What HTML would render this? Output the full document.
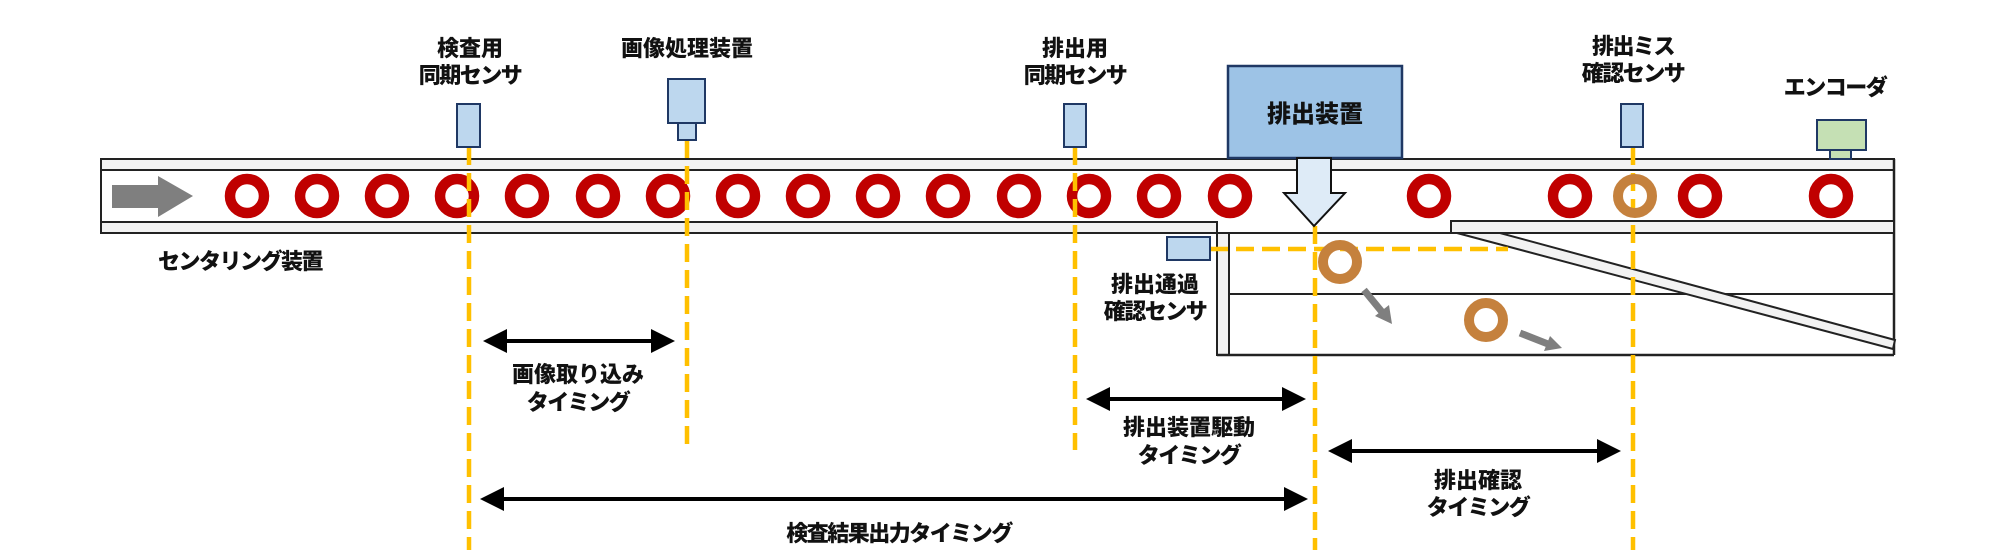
<!DOCTYPE html>
<html><head><meta charset="utf-8"><style>
html,body{margin:0;padding:0;background:#fff;}
svg{display:block;}
text{font-family:"Liberation Sans","Noto Sans CJK JP",sans-serif;font-weight:900;font-size:22px;fill:#111;text-anchor:middle;}
text.k{letter-spacing:-1.5px;}
</style></head><body>
<svg width="2000" height="560" viewBox="0 0 2000 560" xmlns="http://www.w3.org/2000/svg">
<defs>
<marker id="ah" markerWidth="6" markerHeight="6" refX="5" refY="3" orient="auto-start-reverse" markerUnits="strokeWidth">
<path d="M0,0 L6,3 L0,6 Z" fill="#000"/></marker>
</defs>
<rect x="101" y="159" width="1793" height="11" fill="#f2f2f2" stroke="#222" stroke-width="2"/>
<line x1="1894" y1="159" x2="1894" y2="355" stroke="#222" stroke-width="2.5"/>
<line x1="101" y1="159" x2="101" y2="233" stroke="#222" stroke-width="2"/>
<rect x="101" y="222" width="1116" height="11" fill="#f2f2f2" stroke="#222" stroke-width="2"/>
<rect x="1451" y="221" width="443" height="12" fill="#f2f2f2" stroke="#222" stroke-width="2"/>
<rect x="1217" y="233" width="12" height="122" fill="#f2f2f2" stroke="#222" stroke-width="2"/>
<line x1="1229" y1="233" x2="1894" y2="233" stroke="#222" stroke-width="2"/>
<line x1="1229" y1="294" x2="1894" y2="294" stroke="#222" stroke-width="2"/>
<line x1="1217" y1="355" x2="1894" y2="355" stroke="#222" stroke-width="2.5"/>
<polygon points="1457,233 1500,233 1895,340 1893,349" fill="#f2f2f2" stroke="#222" stroke-width="2"/>
<polygon points="112,185 158,185 158,176 193,196 158,217 158,208 112,208" fill="#7f7f7f"/>
<g fill="none" stroke="#c00000" stroke-width="10.5">
<circle cx="247" cy="196" r="17"/><circle cx="317" cy="196" r="17"/><circle cx="387" cy="196" r="17"/>
<circle cx="457" cy="196" r="17"/><circle cx="527" cy="196" r="17"/><circle cx="598" cy="196" r="17"/>
<circle cx="668" cy="196" r="17"/><circle cx="738" cy="196" r="17"/><circle cx="808" cy="196" r="17"/>
<circle cx="878" cy="196" r="17"/><circle cx="948" cy="196" r="17"/><circle cx="1019" cy="196" r="17"/>
<circle cx="1089" cy="196" r="17"/><circle cx="1159" cy="196" r="17"/><circle cx="1230" cy="196" r="17"/>
<circle cx="1429" cy="196" r="17"/><circle cx="1570" cy="196" r="17"/><circle cx="1700" cy="196" r="17"/>
<circle cx="1831" cy="196" r="17"/>
</g>
<g stroke="#ffc000" stroke-width="4.5" stroke-dasharray="18 8" fill="none">
<line x1="469" y1="147" x2="469" y2="550"/>
<line x1="687" y1="140" x2="687" y2="452"/>
<line x1="1075" y1="147" x2="1075" y2="450"/>
<line x1="1315" y1="226" x2="1315" y2="550"/>
<line x1="1633" y1="147" x2="1633" y2="550"/>
<line x1="1210" y1="249" x2="1508" y2="249"/>
</g>
<g fill="none" stroke="#c5813d" stroke-width="10">
<circle cx="1635" cy="196" r="17"/>
<circle cx="1340" cy="262" r="17"/>
<circle cx="1486" cy="320" r="17"/>
</g>
<g stroke="#7f7f7f" stroke-width="7" fill="#7f7f7f">
<line x1="1364" y1="290" x2="1382" y2="312"/>
<polygon points="1375,316 1392,324 1389,305" stroke="none"/>
<line x1="1520" y1="333" x2="1548" y2="344"/>
<polygon points="1544,351 1562,348 1550,336" stroke="none"/>
</g>
<g fill="#bdd7ee" stroke="#1f3864" stroke-width="2">
<rect x="457" y="104" width="23" height="43"/>
<rect x="668" y="79" width="37" height="44"/>
<rect x="678" y="123" width="18" height="17"/>
<rect x="1064" y="104" width="22" height="43"/>
<rect x="1621" y="104" width="22" height="43"/>
<rect x="1167" y="237" width="43" height="23"/>
</g>
<g fill="#c5e0b4" stroke="#1f3864" stroke-width="2">
<rect x="1817" y="120" width="49" height="30"/>
<rect x="1830" y="150" width="21" height="9"/>
</g>
<rect x="1228" y="66" width="174" height="92" fill="#9dc3e6" stroke="#1f3864" stroke-width="2.5"/>
<text x="1315" y="122" style="font-size:24px">排出装置</text>
<polygon points="1297,158 1331,158 1331,193 1345,193 1314,226 1284,193 1297,193" fill="#deebf7" stroke="#111" stroke-width="2"/>
<g stroke="#000" stroke-width="4" marker-start="url(#ah)" marker-end="url(#ah)">
<line x1="487" y1="341" x2="671" y2="341"/>
<line x1="484" y1="499" x2="1304" y2="499"/>
<line x1="1090" y1="399" x2="1302" y2="399"/>
<line x1="1332" y1="451" x2="1617" y2="451"/>
</g>
<text x="470" y="56">検査用</text>
<text x="470" y="83" class="k">同期センサ</text>
<text x="687" y="56">画像処理装置</text>
<text x="1075" y="56">排出用</text>
<text x="1075" y="83" class="k">同期センサ</text>
<text x="1633" y="54" class="k">排出ミス</text>
<text x="1633" y="81" class="k">確認センサ</text>
<text x="1835" y="95" class="k">エンコーダ</text>
<text x="240" y="269" class="k">センタリング装置</text>
<text x="1155" y="292">排出通過</text>
<text x="1155" y="319" class="k">確認センサ</text>
<text x="578" y="382">画像取り込み</text>
<text x="578" y="410" class="k">タイミング</text>
<text x="1189" y="435">排出装置駆動</text>
<text x="1189" y="463" class="k">タイミング</text>
<text x="1478" y="488">排出確認</text>
<text x="1478" y="515" class="k">タイミング</text>
<text x="899" y="541" class="k">検査結果出力タイミング</text>
</svg>
</body></html>
